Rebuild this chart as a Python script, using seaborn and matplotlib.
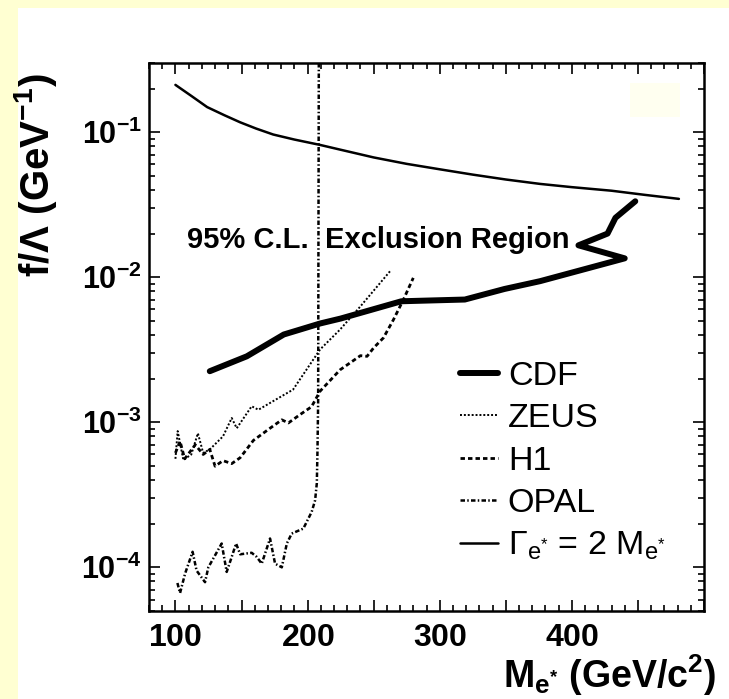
import numpy as np
import pandas as pd
import seaborn as sns
import matplotlib
matplotlib.use("Agg")
import matplotlib.pyplot as plt
from matplotlib.patches import Rectangle
from matplotlib.ticker import MultipleLocator, LogLocator, FuncFormatter, NullFormatter

# ---------------- data ----------------
gamma_m = [100, 112, 124, 137, 149, 161, 174, 190, 209, 225, 250, 275, 300, 325, 350, 376,
           400, 430, 455, 481]
gamma_f = [0.212, 0.178, 0.149, 0.131, 0.117, 0.106, 0.0964, 0.089, 0.0819, 0.0757, 0.067,
           0.0605, 0.0555, 0.051, 0.0472, 0.044, 0.0418, 0.0395, 0.037, 0.0347]

cdf_m = [126, 154, 182, 209.5, 225, 271, 319, 349, 376, 440, 405, 427, 433, 448]
cdf_f = [0.00225, 0.00285, 0.00403, 0.0048, 0.00519, 0.00683, 0.00702, 0.0083, 0.0094,
         0.0135, 0.0166, 0.0200, 0.0257, 0.0334]

zeus_m = [100, 101.7, 106, 112, 117, 121, 126, 136, 142.6, 146.4, 157.7, 162.8, 174, 189,
          209.5, 224.6, 240, 262.4]
zeus_f = [5.6e-4, 8.7e-4, 5.5e-4, 6.0e-4, 8.4e-4, 6.15e-4, 6.5e-4, 8.0e-4, 1.07e-3, 9.1e-4,
          1.29e-3, 1.22e-3, 1.40e-3, 1.68e-3, 3.18e-3, 4.36e-3, 6.3e-3, 0.011]

h1_m = [100, 103.5, 107, 115, 121, 126, 130, 136, 142.6, 149, 159, 171.6, 180.5, 185.5, 194.3,
        203, 209.5, 224.6, 240, 245, 250, 257.4, 265, 272.5, 280]
h1_f = [6.15e-4, 7.4e-4, 5.6e-4, 7.0e-4, 6.0e-4, 6.5e-4, 4.98e-4, 5.44e-4, 5.19e-4, 5.7e-4,
        7.5e-4, 9.1e-4, 1.04e-3, 9.9e-4, 1.13e-3, 1.28e-3, 1.64e-3, 2.3e-3, 2.88e-3, 2.85e-3,
        3.26e-3, 3.82e-3, 5.1e-3, 7.0e-3, 9.9e-3]

opal_m = [101.5, 103.5, 107.3, 113, 116, 122.4, 124.9, 130, 135, 138.8, 142.6, 145.9, 149,
          157.7, 161.5, 165.3, 171.6, 175.4, 180.5, 184.3, 188, 196.8, 203.1, 205.7, 207,
          207.5, 208, 208.5]
opal_f = [7.8e-5, 6.65e-5, 9.05e-5, 1.28e-4, 9.5e-5, 7.9e-5, 1.0e-4, 1.21e-4, 1.46e-4, 9.3e-5,
          1.18e-4, 1.46e-4, 1.23e-4, 1.26e-4, 1.18e-4, 1.06e-4, 1.58e-4, 1.06e-4, 1.0e-4,
          1.46e-4, 1.71e-4, 1.85e-4, 2.41e-4, 2.9e-4, 3.8e-4, 6.4e-4, 1.4e-3, 0.3]

legend_labels = ["CDF", "ZEUS", "H1", "OPAL",
                 r"$\Gamma_{\mathrm{e}^{*}}$ = 2 M$_{\mathrm{e}^{*}}$"]
x_tick_labels = ["100", "200", "300", "400"]

# ---------------- style ----------------
sns.set_style("ticks")
plt.rcParams["font.family"] = ["Liberation Sans", "DejaVu Sans"]
plt.rcParams["mathtext.fontset"] = "custom"
plt.rcParams["mathtext.rm"] = "Liberation Sans"
plt.rcParams["mathtext.it"] = "Liberation Sans:italic"
plt.rcParams["mathtext.bf"] = "Liberation Sans:bold"
for k in ["text.color", "axes.labelcolor", "xtick.color", "ytick.color", "axes.edgecolor"]:
    plt.rcParams[k] = "black"

fig = plt.figure(figsize=(7.29, 6.99), dpi=100)
fig.patch.set_facecolor("#FFFFD2")
fig.add_artist(Rectangle((18 / 729, 0), 1, 1 - 8 / 699, transform=fig.transFigure,
                         facecolor="white", edgecolor="none", zorder=-1))

ax = fig.add_axes([149 / 729, 1 - 611 / 699, 555 / 729, 548 / 699])
ax.set_yscale("log")
ax.set_xlim(80, 500)
ax.set_ylim(5e-5, 0.3)

# faint pale box in upper right
ax.add_patch(Rectangle((0.867, 0.901), 0.09, 0.062, transform=ax.transAxes,
                       facecolor="#FFFFF0", edgecolor="none", zorder=0))

def draw(xs, ys, lw, dashes, label):
    df = pd.DataFrame({"M": xs, "f": ys})
    sns.lineplot(data=df, x="M", y="f", sort=False, estimator=None, ax=ax,
                 color="black", linewidth=lw, label=label, legend=False)
    ln = ax.lines[-1]
    if dashes is not None:
        ln.set_dashes(dashes)
    return ln

h_cdf = draw(cdf_m, cdf_f, 4.3, None, legend_labels[0])
h_zeus = draw(zeus_m, zeus_f, 1.4, (1, 1), legend_labels[1])
h_h1 = draw(h1_m, h1_f, 2.0, (1.6, 1.1), legend_labels[2])
h_opal = draw(opal_m, opal_f, 1.8, (1.8, 0.9, 0.6, 0.9), legend_labels[3])
h_gam = draw(gamma_m, gamma_f, 1.8, None, legend_labels[4])

# axes formatting
for s in ax.spines.values():
    s.set_linewidth(1.8)
    s.set_visible(True)
    s.set_color("black")
ax.xaxis.set_major_locator(MultipleLocator(50))
ax.xaxis.set_minor_locator(MultipleLocator(10))
ax.xaxis.set_major_formatter(FuncFormatter(
    lambda v, p: r"$\mathbf{%s}$" % str(int(round(v)))
    if str(int(round(v))) in x_tick_labels else ""))
ax.yaxis.set_major_locator(LogLocator(base=10, numticks=10))
ax.yaxis.set_minor_locator(LogLocator(base=10, subs=np.arange(2, 10), numticks=50))
ax.yaxis.set_major_formatter(FuncFormatter(
    lambda v, p: r"$\mathbf{10^{%d}}$" % int(round(np.log10(v)))))
ax.yaxis.set_minor_formatter(NullFormatter())
ax.tick_params(which="both", direction="in", top=True, right=True, width=1.2, color="black")
ax.tick_params(which="major", length=8)
ax.tick_params(which="minor", length=4)
ax.tick_params(axis="x", which="major", labelsize=23, pad=9)
ax.tick_params(axis="y", which="major", labelsize=22, pad=5)
ax.set_xlabel("")
ax.set_ylabel("")

fig.text(716 / 729, 1 - 652 / 699, r"$\mathbf{M_{e^{*}}\ (GeV/c^{2})}$", ha="right", va="top",
         fontsize=27)
fig.text(36 / 729, 1 - 175 / 699, r"$\mathbf{f/\Lambda\ (GeV^{-1})}$", rotation=90,
         ha="center", va="center", fontsize=29)

ax.text(108.8, 0.0182, "95% C.L.  Exclusion Region", fontsize=21, fontweight="bold",
        ha="left", va="center")

ax.legend(handles=[h_cdf, h_zeus, h_h1, h_opal, h_gam], labels=legend_labels,
          loc="upper left", bbox_to_anchor=(0.560, 0.456), frameon=False, fontsize=24.5,
          handlelength=1.13, handletextpad=0.28, labelspacing=0.33, borderpad=0,
          borderaxespad=0)

fig.savefig("out.png", dpi=100, facecolor=fig.get_facecolor())
